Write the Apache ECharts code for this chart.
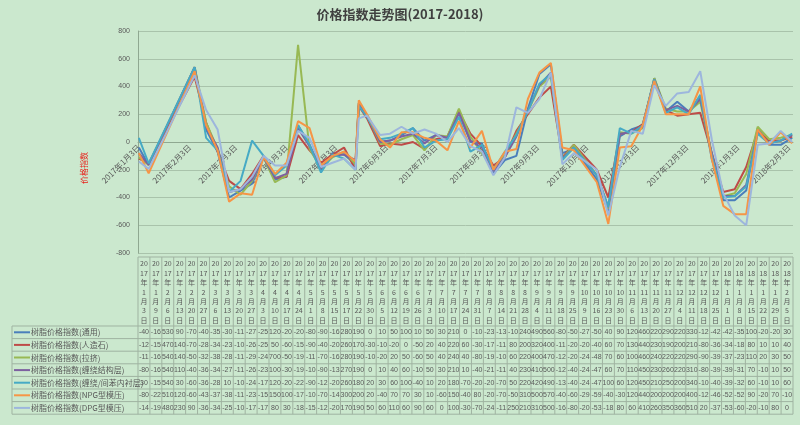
<!DOCTYPE html>
<html><head><meta charset="utf-8">
<script src="https://cdn.jsdelivr.net/npm/echarts@6/dist/echarts.min.js"></script>
<style>html,body{margin:0;padding:0;background:#cbe8ce;}#c{width:800px;height:425px;}</style>
</head><body><div id="c"></div>
<script>
const dates = ['2017-01-03','2017-01-09','2017-02-06','2017-02-13','2017-02-20','2017-02-27','2017-03-06','2017-03-13','2017-03-20','2017-03-27','2017-04-03','2017-04-10','2017-04-17','2017-04-24','2017-05-01','2017-05-08','2017-05-15','2017-05-17','2017-05-22','2017-05-30','2017-06-05','2017-06-12','2017-06-19','2017-06-26','2017-07-03','2017-07-10','2017-07-17','2017-07-24','2017-07-31','2017-08-07','2017-08-14','2017-08-21','2017-08-28','2017-09-04','2017-09-11','2017-09-18','2017-09-25','2017-10-09','2017-10-16','2017-10-23','2017-10-30','2017-11-06','2017-11-13','2017-11-20','2017-11-27','2017-12-04','2017-12-11','2017-12-18','2017-12-25','2018-01-01','2018-01-08','2018-01-15','2018-01-22','2018-01-29','2018-02-05'];
const seriesNames = ['树脂价格指数(通用)','树脂价格指数(人造石)','树脂价格指数(拉挤)','树脂价格指数(缠绕结构层)','树脂价格指数(缠绕/间苯内衬层)','树脂价格指数(NPG型模压)','树脂价格指数(DPG型模压)'];
const sTongyong = [-40,-165,530,90,-70,-400,-350,-300,-110,-270,-250,120,-20,-200,-80,-90,-160,280,190,0,10,50,100,10,50,30,210,0,-10,-230,-130,-100,240,490,560,-80,-50,-270,-500,40,90,120,460,220,290,220,330,-120,-420,-420,-350,100,-20,-20,30];
const sRenzaoshi = [-120,-154,470,140,-70,-280,-340,-230,-100,-260,-250,50,-60,-150,-90,-40,-200,260,170,-30,-10,-20,0,-50,20,40,220,60,-30,-170,-110,80,200,320,400,-110,-20,-200,-400,60,70,130,440,230,190,200,210,-80,-360,-340,-180,80,10,10,40];
const sLaji = [-110,-165,540,140,-50,-320,-380,-280,-110,-290,-240,700,-50,-190,-110,-70,-160,280,190,-10,-20,20,50,-60,50,40,240,40,-80,-190,-100,60,220,400,470,-120,-20,-240,-480,70,60,100,460,240,220,220,290,-90,-390,-370,-230,110,20,30,50];
const sJiegou = [-80,-165,540,110,-40,-360,-340,-270,-110,-260,-230,100,-30,-190,-100,-90,-130,270,190,0,10,40,60,-10,50,30,210,10,-40,-210,-110,40,230,410,500,-120,-40,-240,-470,60,70,110,450,230,260,220,310,-80,-390,-390,-310,70,-10,10,50];
const sNeichen = [30,-155,540,30,-60,-360,-280,10,-100,-240,-170,120,-20,-220,-90,-120,-200,260,180,20,30,60,100,-40,10,20,180,-70,-20,-200,-70,50,220,420,490,-130,-40,-240,-470,100,60,120,450,210,250,200,340,-100,-400,-390,-320,60,-10,10,60];
const sNPG = [-80,-225,510,120,-60,-430,-370,-380,-110,-230,-150,150,100,-170,-100,-70,-140,300,200,20,-40,70,70,30,10,-60,150,-40,80,-200,-70,-50,310,500,570,-40,-60,-290,-590,-40,-30,120,440,200,200,200,400,-120,-460,-520,-520,90,-20,70,-10];
const sDPG = [-140,-194,480,230,90,-360,-340,-250,-100,-170,-170,80,30,-180,-150,-120,-200,170,190,50,60,110,60,90,60,0,100,-30,-70,-240,-110,250,210,310,500,-160,-80,-200,-530,-180,80,60,410,260,350,360,510,20,-370,-530,-600,-20,-10,80,0];
const labelDates = ['2017-01-03','2017-02-03','2017-03-03','2017-04-03','2017-05-03','2017-06-03','2017-07-03','2017-08-03','2017-09-03','2017-10-03','2017-11-03','2017-12-03','2018-01-03','2018-02-03'];
const yTicks = {min:-800, max:800, step:200};

const allSeries = [sTongyong,sRenzaoshi,sLaji,sJiegou,sNeichen,sNPG,sDPG];
const colors = ['#4a7ebb','#be4b48','#98b954','#7d60a0','#46aac5','#f69546','#9db6dd'];

const t0 = Date.UTC(2017,0,3);
function dayOf(s){const p=s.split('-').map(Number);return Math.round((Date.UTC(p[0],p[1]-1,p[2])-t0)/86400000);}
const xs = dates.map(dayOf);
const labelDays = labelDates.map(dayOf);
const lastDay = xs[xs.length-1];

const GL=138, GR=793, GT=31, GB=253;
const zeroY = GT + (GB-GT)*(yTicks.max/(yTicks.max-yTicks.min));
const nCol = dates.length;
const colW = (GR-GL)/nCol;
const headTop=257, headBot=326, rowH=12.6, legL=12;
const lineColor='#9fb3a1', txtColor='#595959';
const valFont='7px "Liberation Sans"';

const mctx = document.createElement('canvas').getContext('2d');
mctx.font = valFont;
function fitText(s){while(s.length>1 && mctx.measureText(s).width>colW+0.2) s=s.slice(0,-1);return s;}

const g = [];
g.push({type:'line',shape:{x1:GL,y1:headTop,x2:GR,y2:headTop},style:{stroke:lineColor,lineWidth:1}});
for(let k=0;k<=seriesNames.length;k++){
  const y=headBot+k*rowH;
  g.push({type:'line',shape:{x1:legL,y1:y,x2:GR,y2:y},style:{stroke:lineColor,lineWidth:1}});
}
const tableBot = headBot+seriesNames.length*rowH;
for(let i=0;i<=nCol;i++){
  const x=GL+i*colW;
  g.push({type:'line',shape:{x1:x,y1:headTop,x2:x,y2:tableBot},style:{stroke:lineColor,lineWidth:1}});
}
g.push({type:'line',shape:{x1:legL,y1:headBot,x2:legL,y2:tableBot},style:{stroke:lineColor,lineWidth:1}});
dates.forEach((d,i)=>{
  const p=d.split('-');
  const txt=[p[0].slice(0,2),p[0].slice(2),'年',String(+p[1]),'月',String(+p[2]),'日'].join('\n');
  g.push({type:'text',x:GL+(i+0.5)*colW,y:headTop+2,style:{text:txt,fill:txtColor,font:'7px "Noto Sans CJK SC"',align:'center',verticalAlign:'top',lineHeight:9.4}});
});
seriesNames.forEach((n,r)=>{
  const yc=headBot+(r+0.5)*rowH;
  g.push({type:'line',shape:{x1:legL+2,y1:yc,x2:legL+18,y2:yc},style:{stroke:colors[r],lineWidth:2}});
  g.push({type:'text',x:legL+19,y:yc,style:{text:n,fill:txtColor,font:'8px "Noto Sans CJK SC"',align:'left',verticalAlign:'middle'}});
  allSeries[r].forEach((v,i)=>{
    g.push({type:'text',x:GL+(i+0.5)*colW,y:yc,style:{text:fitText(String(v)),fill:txtColor,font:valFont,align:'center',verticalAlign:'middle'}});
  });
});
g.push({type:'text',x:84,y:168,rotation:Math.PI/2,style:{text:'价格指数',fill:'#e8201a',font:'8px "Noto Sans CJK SC"',align:'center',verticalAlign:'middle'}});

const chart = echarts.init(document.getElementById('c'));
chart.setOption({
  animation:false,
  backgroundColor:'#cbe8ce',
  title:{text:'价格指数走势图(2017-2018)',left:'center',top:3,textStyle:{fontSize:13,fontWeight:'bold',color:'#404040',fontFamily:'"Noto Sans CJK SC"'}},
  grid:{left:GL,right:800-GR,top:GT,bottom:425-GB,containLabel:false},
  xAxis:{type:'value',min:-0.5,max:lastDay+0.5,position:'bottom',offset:-(GB-zeroY),
    axisLine:{onZero:false,lineStyle:{color:'#8fa891',width:1}},
    axisTick:{show:false},
    splitLine:{show:false},
    axisLabel:{customValues:labelDays,rotate:45,fontSize:8,color:txtColor,margin:4,fontFamily:'"Noto Sans CJK SC"',hideOverlap:false,
      formatter:v=>{const dt=new Date(t0+Math.round(v)*86400000);return dt.getUTCFullYear()+'年'+(dt.getUTCMonth()+1)+'月'+dt.getUTCDate()+'日';}}},
  yAxis:{type:'value',min:yTicks.min,max:yTicks.max,interval:yTicks.step,
    axisLine:{show:true,onZero:false,lineStyle:{color:'#8fa891'}},axisTick:{show:false},
    axisLabel:{fontSize:7,color:txtColor,margin:8},
    splitLine:{lineStyle:{color:'#a9c3ab',width:1}}},
  series:allSeries.map((arr,k)=>({name:seriesNames[k],type:'line',showSymbol:false,
    lineStyle:{width:2,color:colors[k]},itemStyle:{color:colors[k]},
    data:xs.map((x,i)=>[x,arr[i]])})),
  graphic:g
});
</script></body></html>
